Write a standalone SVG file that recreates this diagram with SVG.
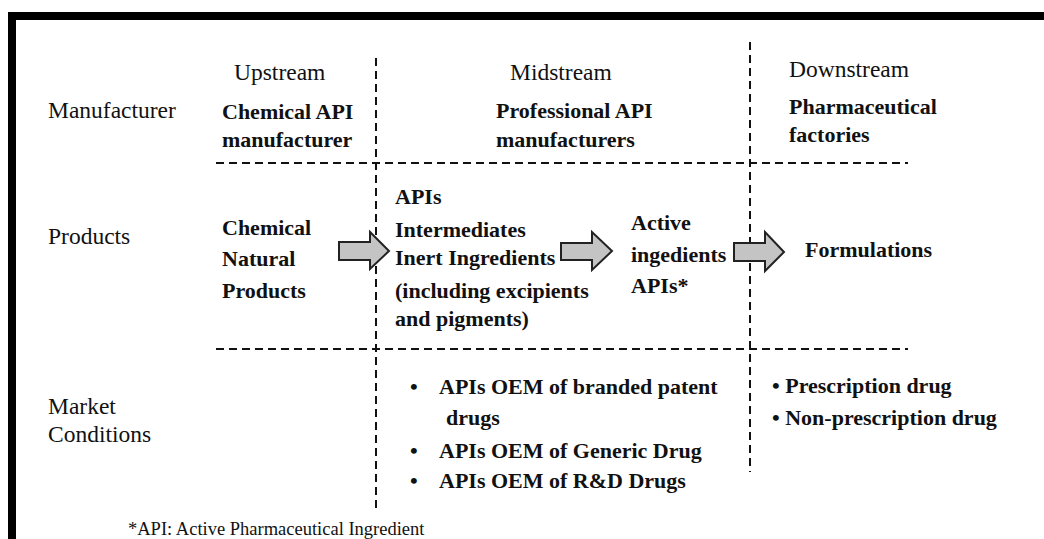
<svg xmlns="http://www.w3.org/2000/svg" width="1044" height="539" viewBox="0 0 1044 539">
<style>
text{font-family:'Liberation Serif','Times New Roman',Tinos,'DejaVu Serif',serif;fill:#111}
.r{font-size:23.5px}
.b{font-size:22px;font-weight:bold}
.f{font-size:18.5px}
.d{stroke:#111;stroke-width:2;stroke-dasharray:8,5;fill:none}
.a{fill:#c4c4c4;stroke:#222;stroke-width:2;stroke-linejoin:miter}
</style>
<rect x="0" y="0" width="1044" height="539" fill="#fff"/>
<rect x="8" y="12" width="1036" height="8" fill="#000"/>
<rect x="8" y="12" width="8" height="527" fill="#000"/>
<g id="connectors">
<line class="d" x1="376" y1="58" x2="376" y2="512"/>
<line class="d" x1="750" y1="42" x2="750" y2="472"/>
<line class="d" x1="216" y1="163" x2="908" y2="163"/>
<line class="d" x1="216" y1="349" x2="908" y2="349"/>
<path class="a" d="M339,242 H370 V232 L389,251 L370,269 V260 H339 Z"/>
<path class="a" d="M561,243 H592 V232 L612,251 L592,270 V260 H561 Z"/>
<path class="a" d="M734,243 H765 V232 L784,252 L765,271 V261 H734 Z"/>
</g>
<g id="headers">
<text class="r" x="234" y="80">Upstream</text>
<text class="r" x="510" y="80">Midstream</text>
<text class="r" x="789" y="77">Downstream</text>
</g>
<g id="row-labels">
<text class="r" x="48" y="118">Manufacturer</text>
<text class="r" x="48" y="244">Products</text>
<text class="r" x="48" y="414">Market</text>
<text class="r" x="48" y="442">Conditions</text>
</g>
<g id="manufacturers">
<text class="b" x="222" y="119">Chemical API</text>
<text class="b" x="222" y="147">manufacturer</text>
<text class="b" x="496" y="118">Professional API</text>
<text class="b" x="496" y="147">manufacturers</text>
<text class="b" x="789" y="114">Pharmaceutical</text>
<text class="b" x="789" y="142">factories</text>
</g>
<g id="upstream-products">
<text class="b" x="222" y="235">Chemical</text>
<text class="b" x="222" y="266">Natural</text>
<text class="b" x="222" y="298">Products</text>
</g>
<g id="midstream-products">
<text class="b" x="395" y="204">APIs</text>
<text class="b" x="395" y="237">Intermediates</text>
<text class="b" x="395" y="265">Inert Ingredients</text>
<text class="b" x="395" y="298">(including excipients</text>
<text class="b" x="395" y="326">and pigments)</text>
</g>
<g id="active-ingredients">
<text class="b" x="631" y="230">Active</text>
<text class="b" x="631" y="262">ingedients</text>
<text class="b" x="631" y="293">APIs*</text>
</g>
<g id="formulations">
<text class="b" x="805" y="257">Formulations</text>
</g>
<g id="midstream-market">
<text class="b" x="410" y="394">•</text>
<text class="b" x="439" y="394">APIs OEM of branded patent</text>
<text class="b" x="446" y="425">drugs</text>
<text class="b" x="410" y="458">•</text>
<text class="b" x="439" y="458">APIs OEM of Generic Drug</text>
<text class="b" x="410" y="488">•</text>
<text class="b" x="439" y="488">APIs OEM of R&amp;D Drugs</text>
</g>
<g id="downstream-market">
<text class="b" x="772" y="393">• Prescription drug</text>
<text class="b" x="772" y="425">• Non-prescription drug</text>
</g>
<g id="footnote">
<text class="f" x="128" y="535">*API: Active Pharmaceutical Ingredient</text>
</g>
</svg>
